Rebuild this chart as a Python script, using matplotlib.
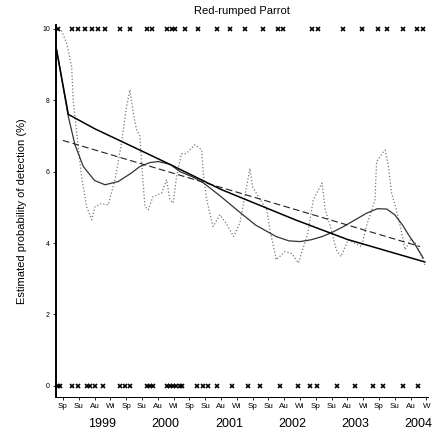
import numpy as np
import matplotlib
matplotlib.use('Agg')
import matplotlib.pyplot as plt

plt.rcParams['font.family'] = ['Liberation Sans', 'DejaVu Sans']

# Seasons on the x axis (index 0 = Spring 1999)
seasons = ['Sp', 'Su', 'Au', 'Wi'] * 5 + ['Sp', 'Su', 'Au', 'W']
years = ['1999', '2000', '2001', '2002', '2003', '2004']
year_pos = [2.5, 6.5, 10.5, 14.5, 18.5, 22.5]

# Near-linear fitted trend (solid, heavy)
trend_x = [-0.4, 0.34, 2.0, 4.87, 6.77, 10.0, 14.7, 18.0, 22.9]
trend_y = [9.4, 7.6, 7.2, 6.6, 6.2, 5.5, 4.65, 4.1, 3.47]

# Smooth wiggly fit (solid, grey)
smooth_x = [-0.4, 0.34, 0.76, 1.29, 2.0, 2.66, 3.5, 4.3, 4.87, 5.5, 6.03, 6.8, 7.4,
            8.2, 8.9, 10.0, 11.0, 12.2, 13.5, 14.3, 15.0, 15.7, 16.4, 17.0, 17.8,
            18.5, 19.2, 19.9, 20.5, 21.0, 21.5, 21.8, 22.3, 22.8]
smooth_y = [9.4, 7.54, 6.75, 6.14, 5.75, 5.63, 5.72, 5.95, 6.14, 6.25, 6.28, 6.2, 6.0,
            5.85, 5.68, 5.3, 4.93, 4.5, 4.18, 4.06, 4.04, 4.09, 4.18, 4.29, 4.47,
            4.65, 4.83, 4.96, 4.95, 4.79, 4.5, 4.28, 3.95, 3.58]

# Linear fit (dashed)
linear_x = [0.0, 22.6]
linear_y = [6.87, 3.90]

# Raw moving estimate (dotted)
raw_x = [-0.3, -0.1, 0.23, 0.55, 0.65, 0.87, 1.18, 1.5, 1.82, 2.03, 2.4, 2.87, 3.29,
         3.71, 4.03, 4.24, 4.45, 4.66, 4.87, 4.98, 5.19, 5.4, 5.7, 6.25, 6.56, 6.77,
         6.98, 7.19, 7.5, 7.8, 8.35, 8.78, 8.88, 9.1, 9.5, 9.94, 10.4, 10.8, 11.2,
         11.84, 12.0, 12.36, 12.9, 13.1, 13.5, 14.05, 14.5, 14.9, 15.5, 15.84, 16.4,
         16.6, 16.9, 17.3, 17.6, 18.05, 18.9, 19.2, 19.75, 19.85, 20.3, 20.4, 20.6,
         20.8, 21.1, 21.4, 21.65, 22.0, 22.3, 22.7, 22.9]
raw_y = [9.97, 9.95, 9.6, 8.94, 8.0, 7.08, 5.86, 5.02, 4.65, 5.02, 5.1, 5.07, 5.77,
         6.8, 7.82, 8.29, 7.64, 7.17, 7.0, 6.24, 5.02, 4.93, 5.3, 5.4, 5.77, 5.21,
         5.12, 5.86, 6.5, 6.5, 6.75, 6.61, 5.96, 5.21, 4.46, 4.79, 4.5, 4.18, 4.56,
         6.09, 5.58, 5.3, 4.93, 4.37, 3.53, 3.76, 3.7, 3.44, 4.27, 5.21, 5.68,
         4.93, 4.51, 3.81, 3.62, 4.09, 3.9, 4.46, 5.21, 6.28, 6.56, 6.6, 6.14,
         5.4, 4.93, 4.37, 3.81, 4.1, 4.0, 3.62, 3.39]

# Observations: detected (top) and not detected (bottom)
detect_x = [-0.32, 0.57, 0.95, 1.39, 1.84, 2.22, 2.66, 3.61, 4.24, 5.32, 5.63, 6.58,
            6.9, 7.09, 7.72, 8.54, 9.75, 10.57, 11.52, 12.66, 13.61, 13.92, 15.76,
            16.14, 17.72, 18.92, 19.94, 20.51, 21.52, 22.41, 22.78]
miss_x = [-0.32, -0.19, 0.57, 0.95, 1.52, 1.71, 2.03, 2.53, 3.61, 3.92, 4.24, 5.32,
          5.51, 5.70, 6.58, 6.77, 6.96, 7.15, 7.41, 7.53, 8.48, 8.86, 9.18, 9.75,
          10.70, 11.71, 12.47, 13.73, 14.87, 15.63, 16.08, 17.34, 18.48, 19.62,
          20.25, 21.52, 22.47]

fig = plt.figure(figsize=(4.34, 4.36), dpi=100)
ax = fig.add_axes([0.129, 0.0894, 0.857, 0.854])

ax.plot(raw_x, raw_y, linestyle=':', color='#777777', lw=0.9)
ax.plot(smooth_x, smooth_y, linestyle='-', color='#333333', lw=0.9)
ax.plot(linear_x, linear_y, linestyle=(0, (6, 3)), color='#222222', lw=0.8)
ax.plot(trend_x, trend_y, linestyle='-', color='black', lw=1.1)

ax.plot(detect_x, [10] * len(detect_x), linestyle='none', marker='x',
        ms=3.4, mew=1.2, color='black', clip_on=False)
ax.plot(miss_x, [0] * len(miss_x), linestyle='none', marker='x',
        ms=3.4, mew=1.2, color='black', clip_on=False)

ax.set_xlim(-0.44, 23.1)
ax.set_ylim(-0.31, 10.11)

ax.set_yticks([0, 2, 4, 6, 8, 10])
ax.set_yticklabels(['0', '2', '4', '6', '8', '10'], fontsize=5)
ax.set_xticks(range(len(seasons)))
ax.set_xticklabels(seasons, fontsize=5.8)
ax.tick_params(axis='both', length=2.5, width=0.6, pad=2)

for yr, pos in zip(years, year_pos):
    ax.text(pos, -0.072, yr, transform=ax.get_xaxis_transform(),
            ha='center', va='center', fontsize=9)

for side in ['top', 'right']:
    ax.spines[side].set_visible(False)
ax.spines['left'].set_linewidth(1.4)
ax.spines['bottom'].set_linewidth(0.7)

ax.set_ylabel('Estimated probability of detection (%)', fontsize=8, labelpad=11)
ax.set_title('Red-rumped Parrot', fontsize=8, pad=8)

fig.savefig('out.png', dpi=100)
